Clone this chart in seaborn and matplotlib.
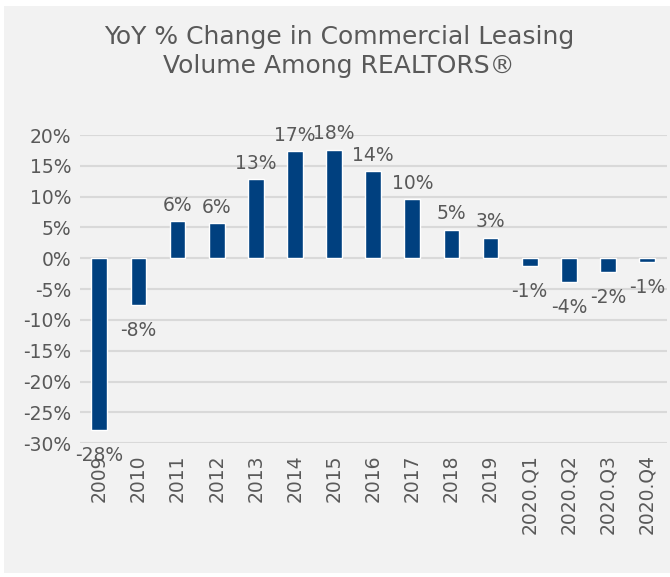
import pandas as pd
import matplotlib.pyplot as plt
import matplotlib.patches as patches
import seaborn as sns

# data
periods = ['2009', '2010', '2011', '2012', '2013', '2014', '2015', '2016',
           '2017', '2018', '2019', '2020.Q1', '2020.Q2', '2020.Q3', '2020.Q4']
yoy_change = [-27.8, -7.6, 6.0, 5.7, 12.8, 17.4, 17.6, 14.1,
              9.6, 4.6, 3.3, -1.3, -3.8, -2.2, -0.6]
tick_values = [20, 15, 10, 5, 0, -5, -10, -15, -20, -25, -30]

df = pd.DataFrame({'period': periods, 'change': yoy_change})

sns.set_style('white')
plt.rcParams['font.family'] = ['DejaVu Sans']
text_color = '#595959'
bg = '#f2f2f2'
bar_color = '#00407f'

fig = plt.figure(figsize=(6.7, 5.77), dpi=100)
fig.patch.set_facecolor('white')
# grey chart panel inside a thin white frame
fig.add_artist(patches.Rectangle((4 / 670, 4 / 577), 1 - 4 / 670, 1 - 10 / 577,
                                 transform=fig.transFigure, facecolor=bg,
                                 edgecolor='none', zorder=0))

ax = fig.add_axes([0.119, 0.232, 0.876, 0.534])
ax.set_facecolor(bg)

sns.barplot(data=df, x='period', y='change', color=bar_color, width=0.4,
            saturation=1, ax=ax, zorder=3)

ax.set_ylim(-30, 20)
ax.set_xlim(-0.5, 14.5)
ax.set_yticks(tick_values)
ax.set_yticklabels([f'{v}%' for v in tick_values])
ax.yaxis.grid(True, color='#d9d9d9', linewidth=1.5, zorder=0)
ax.set_axisbelow(True)
for s in ax.spines.values():
    s.set_visible(False)
ax.tick_params(axis='both', length=0, labelsize=13.5, colors=text_color, pad=6)
ax.tick_params(axis='x', labelrotation=90, pad=8)
ax.set_xlabel('')
ax.set_ylabel('')

# value labels outside end of each bar
for i, v in enumerate(yoy_change):
    label = f'{round(v):.0f}%'
    off = 11.5 if v >= 0 else -18.5
    ax.annotate(label, (i, v), xytext=(0, off), textcoords='offset points',
                ha='center', va='center', fontsize=13.5, color=text_color)

fig.text(0.506, 0.911, 'YoY % Change in Commercial Leasing\nVolume Among REALTORS®',
         ha='center', va='center', fontsize=18, color=text_color,
         linespacing=1.3)

fig.savefig('out.png', dpi=100, facecolor=fig.get_facecolor())
